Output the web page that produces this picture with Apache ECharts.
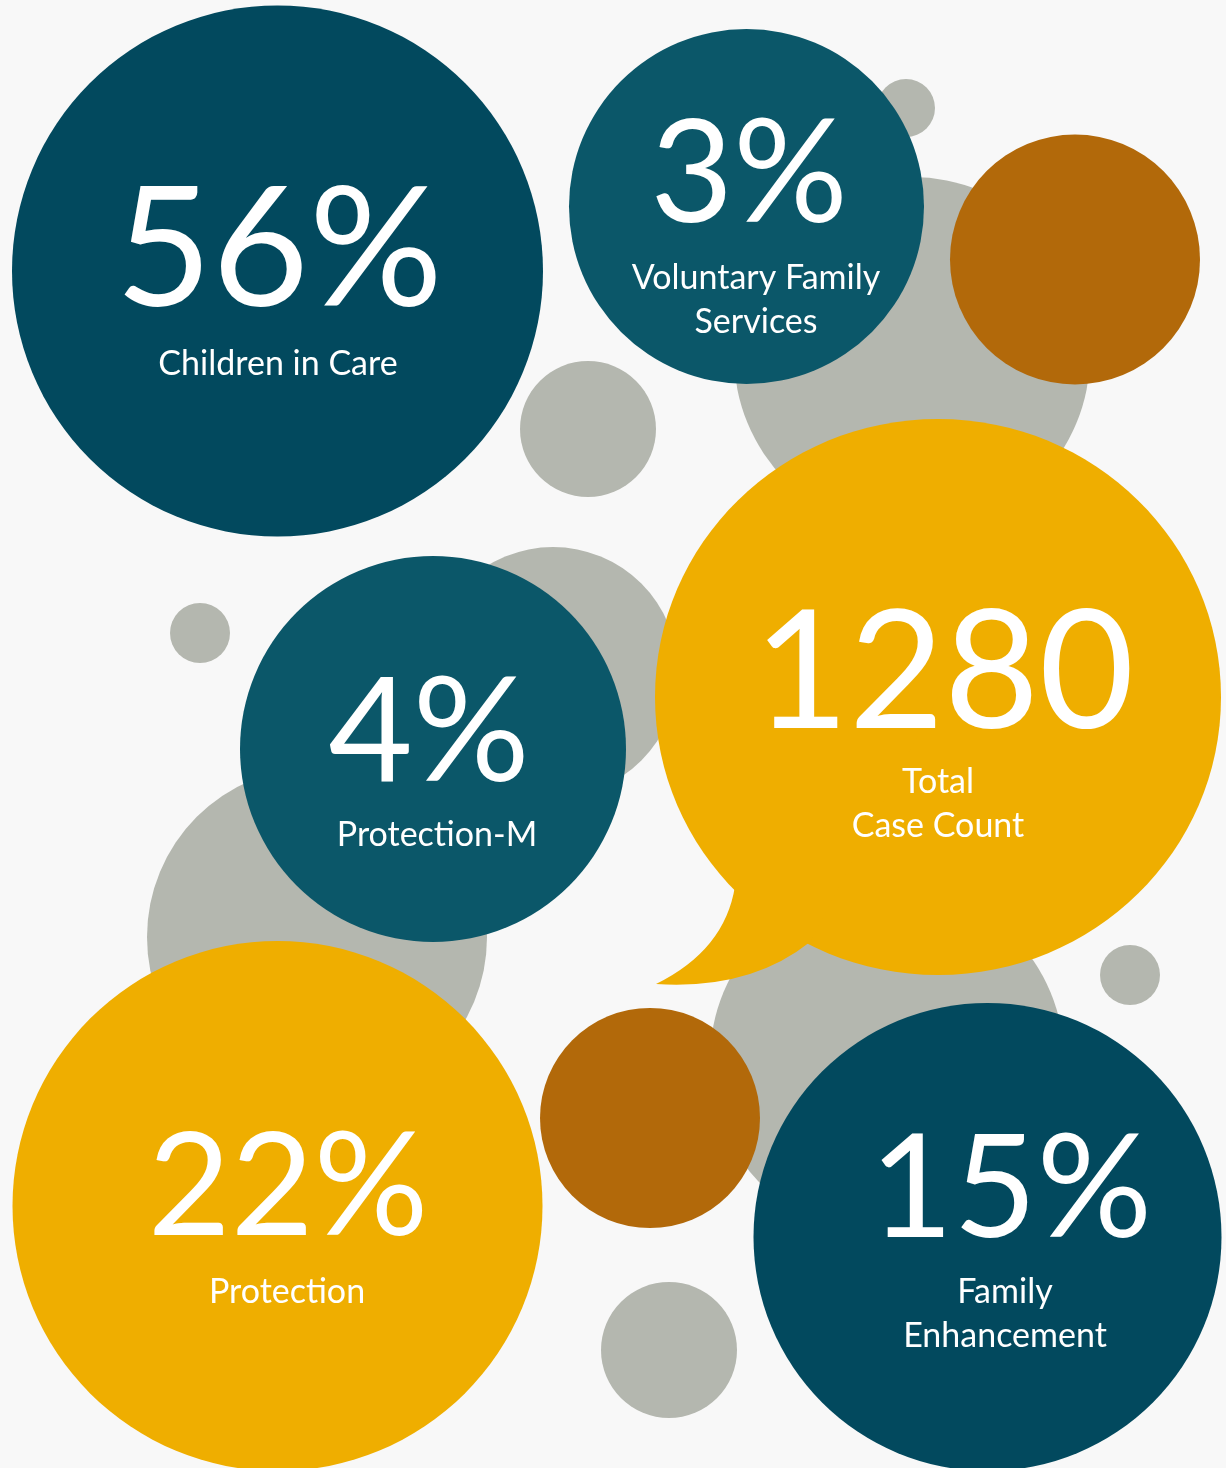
<!DOCTYPE html>
<html><head><meta charset="utf-8">
<script src="https://cdn.jsdelivr.net/npm/echarts@6/dist/echarts.min.js"></script>
<style>html,body{margin:0;padding:0;background:#f8f8f8}#c{width:1226px;height:1468px}</style>
</head><body><div id="c"></div>
<script>
// Circles, listed from back to front
const circleKind = ['gray','gray','orange','teal','dark','gray','gray','gray','gray','teal','gray','callout','gray','yellow','orange','gray','dark'];
const circleX    = [906, 912, 1075, 746.5, 277.5, 588, 200, 553, 317, 433, 887, 938, 1130, 277.5, 650, 669, 987.5];
const circleY    = [108, 355, 259.5, 206.5, 271, 429, 633, 672, 937, 749, 1060, 697, 975, 1206, 1118, 1350, 1237];
const circleR    = [29, 178, 125, 177.5, 265.5, 68, 30, 125, 170, 193, 177, 283, 30, 265, 110, 68, 234];
// Callout bubble (speech-bubble tail points: start, control, tip, control, end)
const calloutRy = 278;
const calloutTail = [[735, 886], [725, 950], [656, 984], [750, 990], [810, 942]];

// Statistics
const statValues   = ['56%', '3%', '4%', '1280', '22%', '15%'];
const statCaptions = ['Children in Care', 'Voluntary Family\nServices', 'Protection-M', 'Total\nCase Count', 'Protection', 'Family\nEnhancement'];
const statX        = [279, 749, 429, 944, 288, 1011];
const statValueY   = [252, 176, 734, 675, 1189, 1191];
const captionX     = [278, 756, 437, 938, 287, 1005];
const captionY     = [364, 300, 835, 804, 1292, 1314];
const statFont     = [167, 143, 146, 164, 143, 144];

const palette = {gray:'#b4b7af', orange:'#b2690a', teal:'#0b5769', dark:'#02495e', yellow:'#efae00', callout:'#efae00'};
const FONT = 'Lato, "Open Sans", sans-serif';

const circleData = circleX.map((x, i) => [x, circleY[i], circleR[i], i]);
const textData = statValues.map((v, i) => [statX[i], statValueY[i], captionX[i], captionY[i], i]);

const chart = echarts.init(document.getElementById('c'));
chart.setOption({
  backgroundColor: '#f8f8f8',
  animation: false,
  grid: {left: 0, right: 0, top: 0, bottom: 0},
  xAxis: {type: 'value', min: 0, max: 1226, show: false},
  yAxis: {type: 'value', min: 0, max: 1468, inverse: true, show: false},
  series: [
    {
      type: 'custom',
      data: circleData,
      encode: {x: 0, y: 1},
      z: 1,
      renderItem: function (params, api) {
        const i = api.value(3);
        const c = api.coord([api.value(0), api.value(1)]);
        const r = api.size([api.value(2), 0])[0];
        const kind = circleKind[i];
        if (kind === 'callout') {
          const ry = api.size([0, calloutRy])[1];
          const pts = calloutTail.map(p => api.coord(p));
          const path = 'M' + pts[0][0] + ' ' + pts[0][1] +
            ' Q' + pts[1][0] + ' ' + pts[1][1] + ' ' + pts[2][0] + ' ' + pts[2][1] +
            ' Q' + pts[3][0] + ' ' + pts[3][1] + ' ' + pts[4][0] + ' ' + pts[4][1] +
            ' L' + (c[0]) + ' ' + (c[1]) + ' Z';
          return {
            type: 'group', z2: i,
            children: [
              {type: 'ellipse', shape: {cx: c[0], cy: c[1], rx: r, ry: ry}, style: {fill: palette[kind]}, z2: i},
              {type: 'path', shape: {pathData: path}, style: {fill: palette[kind]}, z2: i}
            ]
          };
        }
        return {type: 'circle', shape: {cx: c[0], cy: c[1], r: r}, style: {fill: palette[kind]}, z2: i};
      }
    },
    {
      type: 'custom',
      data: textData,
      encode: {x: 0, y: 1},
      z: 5,
      renderItem: function (params, api) {
        const i = api.value(4);
        const p = api.coord([api.value(0), api.value(1)]);
        const q = api.coord([api.value(2), api.value(3)]);
        return {
          type: 'group',
          children: [
            {type: 'text', style: {text: statValues[i], x: p[0], y: p[1], fill: '#ffffff',
              font: 'normal ' + statFont[i] + 'px ' + FONT, align: 'center', verticalAlign: 'middle'}},
            {type: 'text', style: {text: statCaptions[i], x: q[0], y: q[1], fill: '#ffffff',
              font: 'normal 34px ' + FONT, lineHeight: 44, align: 'center', verticalAlign: 'middle'}}
          ]
        };
      }
    }
  ]
});
</script></body></html>
